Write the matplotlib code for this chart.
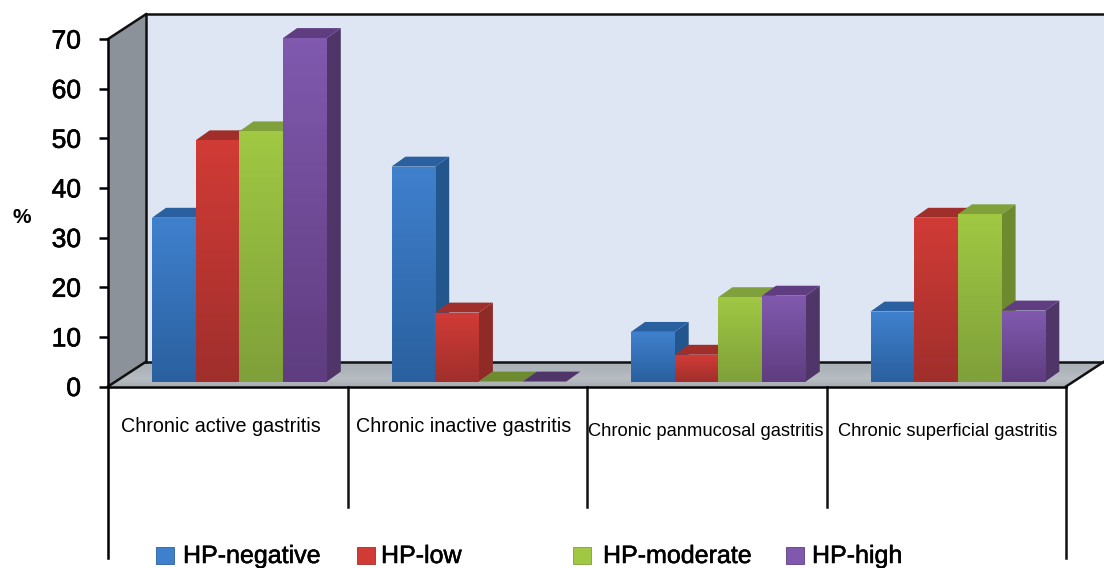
import numpy as np
import matplotlib
matplotlib.use("Agg")
from matplotlib import pyplot as plt
from matplotlib import patheffects
from matplotlib.colors import LinearSegmentedColormap
from matplotlib.patches import Polygon, Rectangle

plt.rcParams["font.family"] = ["Liberation Sans", "DejaVu Sans"]

categories = [
    "Chronic active gastritis",
    "Chronic inactive gastritis",
    "Chronic panmucosal gastritis",
    "Chronic superficial gastritis",
]
hp_negative = [33, 43.3, 10, 14.1]
hp_low = [48.6, 13.9, 5.4, 33]
hp_moderate = [50.4, 0, 17, 33.7]
hp_high = [69.2, 0, 17.3, 14.3]
y_ticks = [0, 10, 20, 30, 40, 50, 60, 70]

series = [
    ("HP-negative", hp_negative, "#3f80cd", "#2a609f", "#24568e"),
    ("HP-low", hp_low, "#d13b36", "#a02f2c", "#8f2a27"),
    ("HP-moderate", hp_moderate, "#a0c843", "#7fa03a", "#6d8a2f"),
    ("HP-high", hp_high, "#8059ae", "#5f3d80", "#4f3568"),
]

px_x = 239.5  # pixels per category
px_y = 4.964  # pixels per percent
x0, y0 = 108, 386.5  # pixel of the chart origin

fig = plt.figure(figsize=(11.04, 5.68), dpi=100)
ax = fig.add_axes([0, 0, 1, 1])
ax.patch.set_alpha(0)


def set_limits():
    ax.set_xlim(-x0 / px_x, (1104 - x0) / px_x)
    ax.set_ylim(-(568 - y0) / px_y, y0 / px_y)


set_limits()

# box depth and bar depth, in data units
wall_dx, wall_dy = 38 / px_x, 5.0
bar_dx, bar_dy = 14 / px_x, 2.0
bar_w = 43.7 / px_x
bar_start = 44 / px_x
bar_base = 1.0

# walls and floor
ax.add_patch(Polygon([(0, 0), (wall_dx, wall_dy), (wall_dx, 70 + wall_dy), (0, 70)],
                     fc="#8b929a", ec="none", zorder=1))
ax.add_patch(Rectangle((wall_dx, wall_dy), 4, 70, fc="#dde6f2", ec="none", zorder=1))
floor = ax.imshow(
    np.linspace(0, 1, 64).reshape(-1, 1),
    extent=(0, 4 + wall_dx, 0, wall_dy),
    cmap=LinearSegmentedColormap.from_list("floor", ["#a9b0b7", "#adb4ba", "#b9bec3", "#a3abb2"]),
    aspect="auto", origin="upper", zorder=1.5,
)
floor_poly = Polygon([(0, 0), (wall_dx, wall_dy), (4 + wall_dx, wall_dy), (4, 0)],
                     transform=ax.transData, fc="none", ec="none")
ax.add_patch(floor_poly)
floor.set_clip_path(floor_poly)

line_kw = dict(color="#111111", lw=1.8, zorder=2, solid_capstyle="projecting")
ax.plot([wall_dx, 4 + wall_dx], [70 + wall_dy] * 2, **line_kw)
ax.plot([wall_dx, wall_dx], [wall_dy, 70 + wall_dy], **line_kw)
ax.plot([0, wall_dx], [70, 70 + wall_dy], **line_kw)
ax.plot([0, wall_dx], [0, wall_dy], **line_kw)
ax.plot([wall_dx, 4 + wall_dx], [wall_dy, wall_dy], **line_kw)
ax.plot([4, 4 + wall_dx], [0, wall_dy], **line_kw)

# bars, painted left to right so the next bar hides the previous side face
z = 3.0
for c in range(len(categories)):
    for s, (name, values, light, dark, side) in enumerate(series):
        v = values[c]
        left = c + bar_start + s * bar_w
        right = left + bar_w
        top = bar_base + v
        ax.add_patch(Polygon(
            [(right, bar_base), (right + bar_dx, bar_base + bar_dy),
             (right + bar_dx, top + bar_dy), (right, top)],
            fc=side, ec="none", zorder=z))
        ax.add_patch(Polygon(
            [(left, top), (left + bar_dx, top + bar_dy),
             (right + bar_dx, top + bar_dy), (right, top)],
            fc=side if v == 0 else dark, ec="none", zorder=z))
        if v > 0:
            ax.bar(left, v, bar_w, bottom=bar_base, align="edge", color=dark, zorder=z + 0.1)
            cmap = LinearSegmentedColormap.from_list(name, [light, dark])
            ax.imshow(np.linspace(0, 1, 64).reshape(-1, 1),
                      extent=(left, right, bar_base, top), cmap=cmap,
                      aspect="auto", origin="upper", zorder=z + 0.2)
        z += 1

set_limits()

# axes lines
for side in ["top", "right"]:
    ax.spines[side].set_visible(False)
ax.spines["left"].set_position(("data", 0))
ax.spines["left"].set_bounds(-34.6, 70)
ax.spines["left"].set_linewidth(1.8)
ax.spines["bottom"].set_position(("data", 0))
ax.spines["bottom"].set_bounds(0, 4)
ax.spines["bottom"].set_linewidth(1.8)
ax.spines["left"].set_zorder(50)
ax.spines["bottom"].set_zorder(50)
ax.set_yticks(y_ticks)
ax.set_xticks([])
ax.tick_params(axis="y", length=6.5, width=1.8, pad=13, labelsize=19)
heavier = [patheffects.withStroke(linewidth=0.5, foreground="black")]
for label in ax.get_yticklabels():
    label.set_path_effects(heavier)
ax.plot([4, 4], [0, -34.6], color="#111111", lw=1.8, zorder=50)
for c in [1, 2, 3]:
    ax.plot([c, c], [0, -24.2], color="#111111", lw=1.8, zorder=50)

# category labels
label_x = [220.5, 463.5, 705.5, 948]
label_y = [426, 426, 431, 431]
label_size = [14.2, 14.2, 13.2, 13.2]
for name, px, py, size in zip(categories, label_x, label_y, label_size):
    ax.text((px - x0) / px_x, (y0 - py) / px_y, name, ha="center", va="center", fontsize=size)

ax.text((22 - x0) / px_x, (y0 - 217) / px_y, "%", ha="center", va="center",
        fontsize=15, fontweight="bold")

# legend
swatch_px = [156, 357, 573, 786]
text_px = [183, 381, 603, 812]
for (name, values, light, dark, side), sx, tx in zip(series, swatch_px, text_px):
    ax.add_patch(Rectangle(((sx - x0) / px_x, (y0 - 564) / px_y), 18 / px_x, 17 / px_y,
                           fc=light, ec=dark, lw=0.6, zorder=60))
    t = ax.text((tx - x0) / px_x, (y0 - 556) / px_y, name, ha="left", va="center", fontsize=18)
    t.set_path_effects([patheffects.withStroke(linewidth=0.4, foreground="black")])

fig.savefig("out.png", dpi=100)
